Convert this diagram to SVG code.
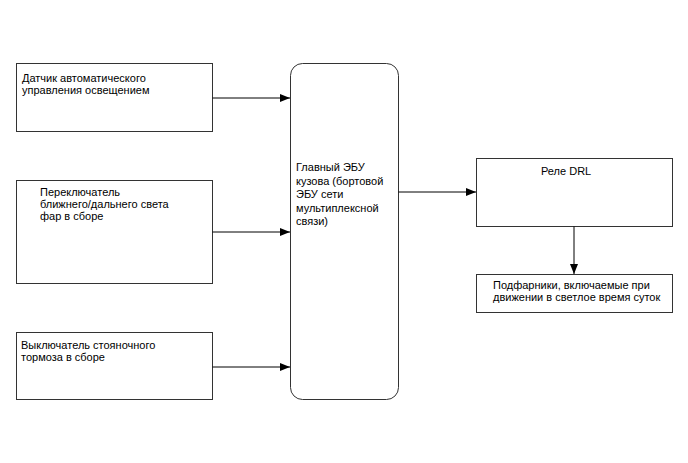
<svg xmlns="http://www.w3.org/2000/svg" width="688" height="463" viewBox="0 0 688 463">
<style>
.box{fill:#fff;stroke:#333;stroke-width:1}
.t{font-family:"Liberation Sans",Arial,sans-serif;font-size:11px;fill:#000}
.c{stroke:#000;stroke-width:1;fill:none;marker-end:url(#ah)}
</style>
<defs>
<marker id="ah" markerWidth="10" markerHeight="8" refX="10" refY="4" orient="auto" markerUnits="userSpaceOnUse">
<path d="M0,0 L10,4 L0,8 z" fill="#000"/>
</marker>
</defs>
<rect width="688" height="463" fill="#fff"/>
<g id="sensor">
<rect class="box" x="16.5" y="63.5" width="196" height="68"/>
<text class="t" x="22" y="82">Датчик автоматического</text>
<text class="t" x="22" y="94">управления освещением</text>
</g>
<g id="switch">
<rect class="box" x="16.5" y="180.5" width="196" height="103"/>
<text class="t" x="40" y="196">Переключатель</text>
<text class="t" x="40" y="208">ближнего/дальнего света</text>
<text class="t" x="40" y="220">фар в сборе</text>
</g>
<g id="brake">
<rect class="box" x="16.5" y="332.5" width="196" height="67"/>
<text class="t" x="21" y="349">Выключатель стояночного</text>
<text class="t" x="21" y="361">тормоза в сборе</text>
</g>
<g id="ecu">
<rect class="box" x="290.5" y="63.5" width="108" height="336" rx="12" ry="12"/>
<text class="t" x="296" y="171">Главный ЭБУ</text>
<text class="t" x="296" y="185">кузова (бортовой</text>
<text class="t" x="296" y="198">ЭБУ сети</text>
<text class="t" x="296" y="212">мультиплексной</text>
<text class="t" x="296" y="225">связи)</text>
</g>
<g id="relay">
<rect class="box" x="476.5" y="158.5" width="196" height="68"/>
<text class="t" x="541" y="175">Реле DRL</text>
</g>
<g id="lamps">
<rect class="box" x="476.5" y="274.5" width="196" height="38"/>
<text class="t" x="493" y="289">Подфарники, включаемые при</text>
<text class="t" x="493" y="301">движении в светлое время суток</text>
</g>
<g id="connectors">
<line class="c" x1="212.5" y1="98" x2="290" y2="98"/>
<line class="c" x1="212.5" y1="232" x2="290" y2="232"/>
<line class="c" x1="212.5" y1="367" x2="290" y2="367"/>
<line class="c" x1="398.5" y1="192" x2="476" y2="192"/>
<line class="c" x1="574" y1="226.5" x2="574" y2="274"/>
</g>
</svg>
